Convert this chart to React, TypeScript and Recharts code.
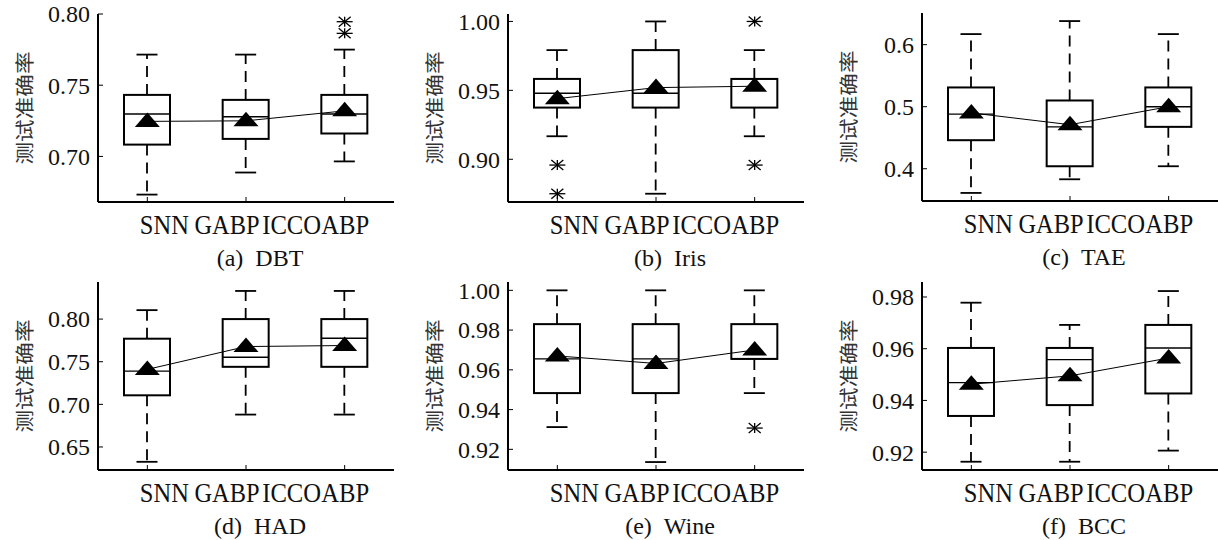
import React from "react";
import { ComposedChart, Bar, Line, XAxis, YAxis } from "recharts";

const categories = ["SNN", "GABP", "ICCOABP"];

// box stats per category: [whiskerLow, q1, median, q3, whiskerHigh]
const dbtBoxes = [
  [0.6732, 0.7083, 0.7298, 0.7432, 0.7715],
  [0.6887, 0.7123, 0.7279, 0.7397, 0.7715],
  [0.6965, 0.7161, 0.7298, 0.7432, 0.775],
];
const dbtMeans = [0.7246, 0.725, 0.732];
const dbtOutliers = [[], [], [0.7946, 0.7864]];
const dbtTicks = [0.7, 0.75, 0.8];

const irisBoxes = [
  [0.9167, 0.9375, 0.9479, 0.9583, 0.9792],
  [0.875, 0.9375, 0.9479, 0.9792, 1.0],
  [0.9167, 0.9375, 0.9583, 0.9583, 0.9792],
];
const irisMeans = [0.944, 0.952, 0.953];
const irisOutliers = [[0.8958, 0.875], [], [1.0, 0.8958]];
const irisTicks = [0.9, 0.95, 1.0];

const taeBoxes = [
  [0.361, 0.446, 0.488, 0.531, 0.617],
  [0.383, 0.404, 0.4675, 0.51, 0.638],
  [0.404, 0.4675, 0.5, 0.531, 0.617],
];
const taeMeans = [0.49, 0.471, 0.5];
const taeOutliers = [[], [], []];
const taeTicks = [0.4, 0.5, 0.6];

const hadBoxes = [
  [0.6326, 0.7106, 0.739, 0.777, 0.8105],
  [0.688, 0.744, 0.7553, 0.8, 0.833],
  [0.688, 0.744, 0.7775, 0.8, 0.833],
];
const hadMeans = [0.741, 0.7678, 0.769];
const hadOutliers = [[], [], []];
const hadTicks = [0.65, 0.7, 0.75, 0.8];

const wineBoxes = [
  [0.9312, 0.9483, 0.9655, 0.983, 1.0],
  [0.9136, 0.9483, 0.9655, 0.983, 1.0],
  [0.9483, 0.9655, 0.9655, 0.983, 1.0],
];
const wineMeans = [0.967, 0.9632, 0.97];
const wineOutliers = [[], [], [0.9307]];
const wineTicks = [0.92, 0.94, 0.96, 0.98, 1.0];

const bccBoxes = [
  [0.9163, 0.934, 0.9469, 0.9603, 0.9778],
  [0.9163, 0.9382, 0.9558, 0.9603, 0.9692],
  [0.9206, 0.9427, 0.9603, 0.9692, 0.9823],
];
const bccMeans = [0.9463, 0.9495, 0.9564];
const bccOutliers = [[], [], []];
const bccTicks = [0.92, 0.94, 0.96, 0.98];

const SERIF = "'Liberation Serif', serif";
const CJK = "'Noto Sans CJK SC', sans-serif";
const INK = "#111";

// x label look: words sit packed together like in the source figure
const labelShift = [17, -19, -29];
const labelLen = [49, 65, 107];

const PLOT_W = 296;
const PLOT_H = 188;
const Y_W = 98;

const panels = [
  { tag: "(a)", name: "DBT", boxes: dbtBoxes, means: dbtMeans, outliers: dbtOutliers, ticks: dbtTicks, domain: [0.668, 0.8], dec: 2, left: 98, top: 14 },
  { tag: "(b)", name: "Iris", boxes: irisBoxes, means: irisMeans, outliers: irisOutliers, ticks: irisTicks, domain: [0.869, 1.0054], dec: 2, left: 508, top: 13.5 },
  { tag: "(c)", name: "TAE", boxes: taeBoxes, means: taeMeans, outliers: taeOutliers, ticks: taeTicks, domain: [0.348, 0.651], dec: 1, left: 922, top: 12.5 },
  { tag: "(d)", name: "HAD", boxes: hadBoxes, means: hadMeans, outliers: hadOutliers, ticks: hadTicks, domain: [0.623, 0.8435], dec: 2, left: 98, top: 282 },
  { tag: "(e)", name: "Wine", boxes: wineBoxes, means: wineMeans, outliers: wineOutliers, ticks: wineTicks, domain: [0.9096, 1.0042], dec: 2, left: 508, top: 282 },
  { tag: "(f)", name: "BCC", boxes: bccBoxes, means: bccMeans, outliers: bccOutliers, ticks: bccTicks, domain: [0.9131, 0.9858], dec: 2, left: 922, top: 282 },
];

const BoxShape = (props: any) => {
  const { x, y, width, height, payload } = props;
  if (!payload || x == null) return <g />;
  const [lo, q1, med, q3, hi] = payload.box;
  const top = Math.min(y, y + height);
  const h = Math.abs(height);
  const k = h / (hi - lo);
  const py = (v: number) => top + (hi - v) * k;
  const cx = x + width / 2;
  const cap = 10.5;
  return (
    <g>
      <line x1={cx} x2={cx} y1={py(q3)} y2={py(hi)} stroke="#000" strokeWidth={1.8} strokeDasharray="11 7" />
      <line x1={cx} x2={cx} y1={py(q1)} y2={py(lo)} stroke="#000" strokeWidth={1.8} strokeDasharray="11 7" />
      <line x1={cx - cap} x2={cx + cap} y1={py(hi)} y2={py(hi)} stroke="#000" strokeWidth={1.8} />
      <line x1={cx - cap} x2={cx + cap} y1={py(lo)} y2={py(lo)} stroke="#000" strokeWidth={1.8} />
      <rect x={x} y={py(q3)} width={width} height={py(q1) - py(q3)} fill="none" stroke="#000" strokeWidth={2} />
      <line x1={x} x2={x + width} y1={py(med)} y2={py(med)} stroke="#000" strokeWidth={1.4} />
    </g>
  );
};

const Tri = (props: any) => {
  const { cx, cy } = props;
  if (cx == null || cy == null) return <g />;
  return <path d={`M${cx},${cy - 9} L${cx + 12.5},${cy + 5.5} L${cx - 12.5},${cy + 5.5} Z`} fill="#000" />;
};

const Star = (props: any) => {
  const { cx, cy, value } = props;
  if (cx == null || cy == null || value == null) return <g />;
  return (
    <g stroke="#000" strokeWidth={1.3}>
      <line x1={cx - 8} x2={cx + 8} y1={cy} y2={cy} />
      <line x1={cx - 6} x2={cx + 6} y1={cy - 5} y2={cy + 5} />
      <line x1={cx - 6} x2={cx + 6} y1={cy + 5} y2={cy - 5} />
      <line x1={cx} x2={cx} y1={cy - 5} y2={cy + 5} />
    </g>
  );
};

const XTick = (props: any) => {
  const { x, y, payload, index } = props;
  return (
    <g>
      <line x1={x} x2={x} y1={y} y2={y - 5} stroke="#000" strokeWidth={1} />
      <text
        x={x + labelShift[index]}
        y={y + 32}
        textAnchor="middle"
        style={{ fontFamily: SERIF, fontSize: 27 }}
        fill={INK}
        textLength={labelLen[index]}
        lengthAdjust="spacingAndGlyphs"
      >
        {payload.value}
      </text>
    </g>
  );
};

const makeYTick = (dec: number) => (props: any) => {
  const { x, y, payload } = props;
  return (
    <g>
      <line x1={x} x2={x + 5} y1={y} y2={y} stroke="#000" strokeWidth={1} />
      <text x={x - 8} y={y} dy="0.35em" textAnchor="end" style={{ fontFamily: SERIF, fontSize: 24 }} fill={INK}>
        {Number(payload.value).toFixed(dec)}
      </text>
    </g>
  );
};

function BoxPanel({ p }: { p: any }) {
  const data = categories.map((c, i) => ({
    name: c,
    range: [p.boxes[i][0], p.boxes[i][4]],
    box: p.boxes[i],
    mean: p.means[i],
    out1: p.outliers[i][0] ?? null,
    out2: p.outliers[i][1] ?? null,
  }));
  const frame = { stroke: "#000", strokeWidth: 2 };
  return (
    <div style={{ position: "absolute", left: p.left - Y_W, top: p.top - 14 }}>
      <ComposedChart
        width={Y_W + PLOT_W + 4}
        height={272}
        data={data}
        margin={{ top: 14, right: 4, bottom: 20, left: 0 }}
      >
        <XAxis
          dataKey="name"
          height={50}
          interval={0}
          tickSize={0}
          tickMargin={0}
          tickLine={false}
          axisLine={frame}
          tick={(t: any) => <XTick {...t} />}
          label={(lp: any) => {
            const vb = lp.viewBox || {};
            return (
              <text
                x={vb.x + vb.width / 2 + 14}
                y={vb.y + 64}
                textAnchor="middle"
                style={{ fontFamily: SERIF, fontSize: 24 }}
                fill={INK}
              >
                <tspan>{p.tag}</tspan>
                <tspan dx={12}>{p.name}</tspan>
              </text>
            );
          }}
        />
        <XAxis xAxisId="top" orientation="top" dataKey="name" height={0} tick={false} tickLine={false} axisLine={frame} />
        <YAxis
          type="number"
          width={Y_W}
          domain={p.domain}
          ticks={p.ticks}
          allowDataOverflow
          tickSize={0}
          tickMargin={0}
          tickLine={false}
          axisLine={frame}
          tick={makeYTick(p.dec)}
          label={(lp: any) => {
            const vb = lp.viewBox || {};
            const cx = vb.x + 23;
            const cy = vb.y + vb.height / 2;
            return (
              <text
                x={cx}
                y={cy}
                transform={`rotate(-90 ${cx} ${cy})`}
                textAnchor="middle"
                dominantBaseline="central"
                style={{ fontFamily: CJK, fontSize: 19 }}
                fill="#333"
                textLength={113}
                lengthAdjust="spacingAndGlyphs"
              >
                测试准确率
              </text>
            );
          }}
        />
        <YAxis yAxisId="right" orientation="right" width={0} domain={p.domain} tick={false} tickLine={false} axisLine={frame} />
        <Bar dataKey="range" barSize={46} shape={BoxShape} isAnimationActive={false} />
        <Line dataKey="mean" stroke="#000" strokeWidth={1} dot={Tri} activeDot={false} isAnimationActive={false} />
        <Line dataKey="out1" stroke="none" dot={Star} activeDot={false} isAnimationActive={false} />
        <Line dataKey="out2" stroke="none" dot={Star} activeDot={false} isAnimationActive={false} />
      </ComposedChart>
    </div>
  );
}

export default function App() {
  return (
    <div style={{ position: "absolute", left: 0, top: 0, width: 1218, height: 540, background: "#fff" }}>
      {panels.map((p) => (
        <BoxPanel key={p.name} p={p} />
      ))}
    </div>
  );
}
